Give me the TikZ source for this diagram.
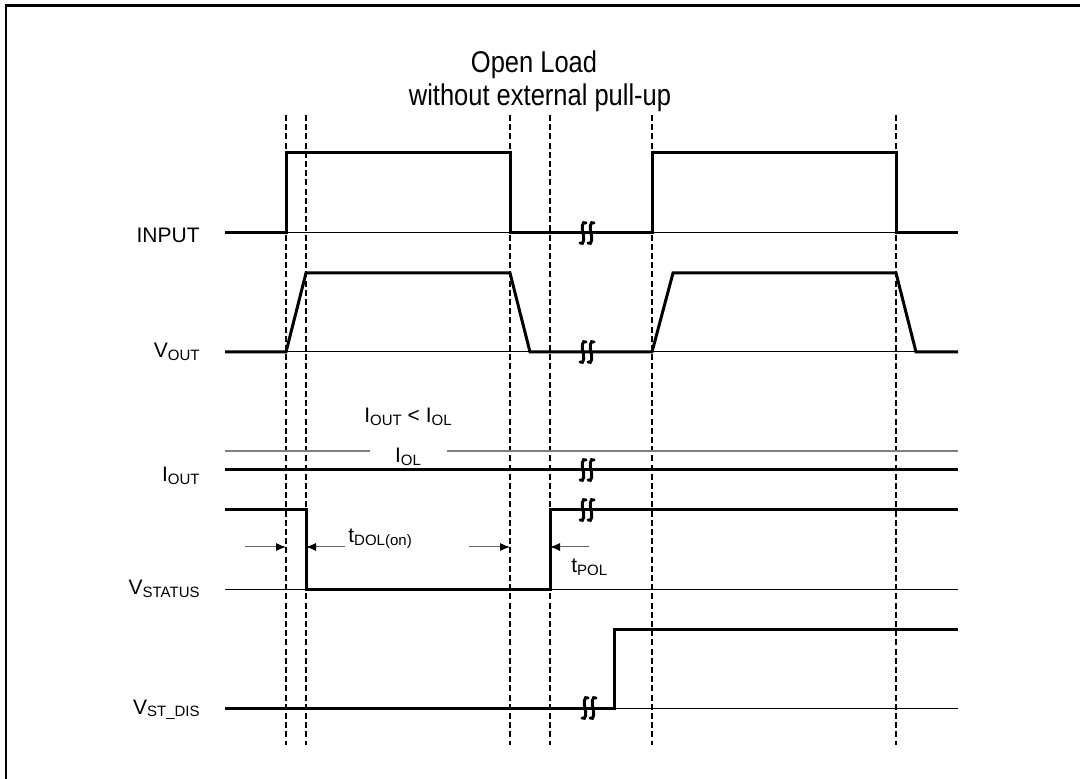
\documentclass[tikz,border=0pt]{standalone}
\usepackage{fontspec}
\setmainfont{Liberation Sans}
\newfontfamily\narrowfont[FakeStretch=0.85]{Liberation Sans}
\definecolor{refGray}{rgb}{0.5,0.5,0.5}
\usetikzlibrary{
    arrows.meta,
    positioning
}
\newcommand{\lowsub}[1]{\raisebox{-0.25ex}{\fontsize{7.5}{9}\selectfont #1}}
\tikzset{
    timingDiagram/.style={
        x=0.5pt,
        y=-0.5pt,
        signal/.style = {
            line width=1.5pt,
            line join=miter,
        },
        refline/.style = {
            line width=0.5pt,
        },
        levelline/.style = {
            line width=1pt,
            draw = refGray,
        },
        guide/.style = {
            line width=0.6pt,
            dash pattern=on 3pt off 1.6pt,
        },
        timearrow/.style = {
            line width=0.5pt,
            draw = refGray!80!black,
            -{Latex[length=5pt, width=4pt, color=black]},
        },
        breakline/.style = {
            line width=1.5pt,
            line cap=round,
        },
        siglabel/.style = {
            anchor = base east,
            inner sep = 0pt,
            font = \fontsize{10.5}{12}\selectfont,
        },
        textlabel/.style = {
            anchor = base,
            inner sep = 0pt,
            font = \fontsize{10.5}{12}\selectfont,
        },
        titlelabel/.style = {
            anchor = base,
            inner sep = 0pt,
            font = \narrowfont\fontsize{15}{17}\selectfont,
        },
    }
}
% break symbol on a signal line
\newcommand{\breakmark}[2]{
    \foreach \bx in {-4,4}
        \draw[breakline, shift={(#1+\bx,#2)}]
            (3,-10) .. controls (-1,-13) and (-1.5,-4) .. (0,0)
            .. controls (1.5,4) and (1,13) .. (-3,10);
}

\begin{document}
\begin{tikzpicture}[timingDiagram]
    \useasboundingbox (0,0) rectangle (1080,779);

    % frame
    \draw[line width=1.5pt] (5,6) -- (1080,6);
    \draw[line width=1pt] (6,6) -- (6,779);

    % title
    \node[titlelabel] (title_top) at (534,73) {Open Load};
    \node[titlelabel] (title_bottom) at (540,106) {without external pull-up};

    % signal names
    \node[siglabel] (lbl_input) at (200,243) {INPUT};
    \node[siglabel] (lbl_vout) at (200,358) {V\lowsub{OUT}};
    \node[siglabel] (lbl_iout) at (200,482) {I\lowsub{OUT}};
    \node[siglabel] (lbl_vstatus) at (200,595) {V\lowsub{STATUS}};
    \node[siglabel] (lbl_vstdis) at (200,714) {V\lowsub{ST\_DIS}};

    % guide lines
    \foreach \gx in {286,306,510,550,652,896}
        \draw[guide] (\gx,115) -- (\gx,745);

    % reference levels
    \foreach \ry in {233,352,589,708}
        \draw[refline] (225,\ry) -- (958,\ry);
    \draw[levelline] (225,451) -- (370,451);
    \draw[levelline] (447,451) -- (958,451);

    % waveforms
    \draw[signal] (225,233) -- (286,233) -- (286,153) -- (510,153) -- (510,233)
        -- (652,233) -- (652,153) -- (896,153) -- (896,233) -- (958,233);
    \draw[signal] (225,352) -- (286,352) -- (306,273) -- (510,273) -- (530,352)
        -- (652,352) -- (673,273) -- (896,273) -- (916,352) -- (958,352);
    \draw[signal] (225,470) -- (958,470);
    \draw[signal] (225,510) -- (306,510) -- (306,589) -- (550,589) -- (550,510)
        -- (958,510);
    \draw[signal] (225,708) -- (614,708) -- (614,629) -- (958,629);

    \breakmark{587}{233}
    \breakmark{587}{352}
    \breakmark{587}{470}
    \breakmark{587}{510}
    \breakmark{589}{708}

    % levels and timings
    \node[textlabel] (lbl_cond) at (408,423) {I\lowsub{OUT} < I\lowsub{OL}};
    \node[textlabel] (lbl_iol) at (408,463) {I\lowsub{OL}};

    \node[textlabel, anchor=base west] (lbl_tdol) at (348,543) {t\lowsub{DOL(on)}};
    \node[textlabel, anchor=base west] (lbl_tpol) at (571,573) {t\lowsub{POL}};

    \draw[timearrow] (245,547) -- (286,547);
    \draw[timearrow] (345,547) -- (306,547);
    \draw[timearrow] (469,547) -- (510,547);
    \draw[timearrow] (589,547) -- (550,547);
\end{tikzpicture}
\end{document}
